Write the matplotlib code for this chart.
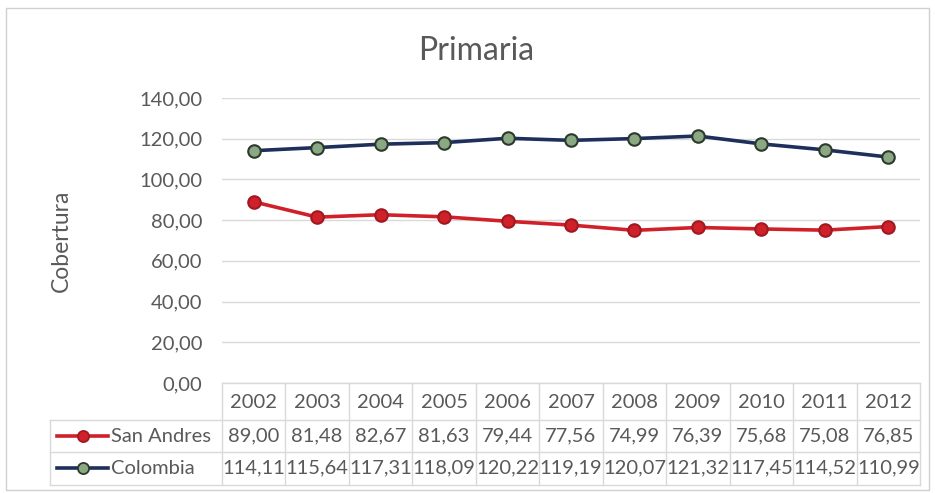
import matplotlib
matplotlib.use("Agg")
import matplotlib.pyplot as plt
from matplotlib.patches import Rectangle
from matplotlib.lines import Line2D
import matplotlib.transforms as mtransforms

years = ["2002", "2003", "2004", "2005", "2006", "2007", "2008", "2009", "2010", "2011", "2012"]
san_andres = [89.00, 81.48, 82.67, 81.63, 79.44, 77.56, 74.99, 76.39, 75.68, 75.08, 76.85]
colombia = [114.11, 115.64, 117.31, 118.09, 120.22, 119.19, 120.07, 121.32, 117.45, 114.52, 110.99]
series_names = ["San Andres", "Colombia"]
yticks = [0, 20, 40, 60, 80, 100, 120, 140]

FONT = "Lato"
TXT = "#595959"
GRID = "#d9d9d9"
RED = "#d0202a"
RED_EDGE = "#a01820"
NAVY = "#1f2f5c"
GREEN = "#8aa884"
FS = 14.5

W, H = 935, 493
fig = plt.figure(figsize=(W / 100, H / 100), dpi=100)
fig.patch.set_facecolor("white")

# chart border
fig.add_artist(Rectangle((6 / W, 1 - 490 / H), (929 - 6) / W, (490 - 8) / H,
                         transform=fig.transFigure, fill=False, edgecolor="#d0d0d0", lw=1))

x0, x1 = 222, 920
ytop, ybot = 98, 383
ax = fig.add_axes([x0 / W, 1 - ybot / H, (x1 - x0) / W, (ybot - ytop) / H])
xs = list(range(len(years)))
ax.set_xlim(-0.5, len(years) - 0.5)
ax.set_ylim(0, 140)
for s in ax.spines.values():
    s.set_visible(False)
ax.set_yticks(yticks)
ax.set_yticklabels([f"{v:.2f}".replace(".", ",") for v in yticks], fontsize=FS,
                   color=TXT, family=FONT)
ax.tick_params(axis="y", length=0, pad=14)
ax.set_xticks([])
ax.grid(axis="y", color=GRID, lw=1)
ax.set_axisbelow(True)

ax.plot(xs, san_andres, color=RED, lw=2.6, marker="o", ms=9, mfc=RED, mec=RED_EDGE, mew=1.5,
        zorder=3, clip_on=False)
ax.plot(xs, colombia, color=NAVY, lw=2.6, marker="o", ms=9, mfc=GREEN, mec="#2b3a2a", mew=1.5,
        zorder=3, clip_on=False)

fig.text(61 / W, 1 - 241 / H, "Cobertura", rotation=90, ha="center", va="center",
         fontsize=16.5, color=TXT, family=FONT)

fig.text(476 / W, 1 - 51 / H, "Primaria", ha="center", va="center", fontsize=23,
         color=TXT, family=FONT)

# data table
trans = mtransforms.blended_transform_factory(ax.transData, fig.transFigure)
def fy(py):
    return 1 - py / H

row_head, row1, row2, row_end = 383, 420, 452, 485
for i in range(len(years) + 1):
    fig.add_artist(Line2D([i - 0.5, i - 0.5], [fy(row_head), fy(row_end)], transform=trans,
                          color=GRID, lw=1))
for yy in (row1, row2, row_end):
    fig.add_artist(Line2D([50 / W, x1 / W], [fy(yy), fy(yy)], transform=fig.transFigure,
                          color=GRID, lw=1))
fig.add_artist(Line2D([50 / W, 50 / W], [fy(row1), fy(row_end)], transform=fig.transFigure,
                      color=GRID, lw=1))
fig.add_artist(Line2D([x0 / W, x1 / W], [fy(row_head), fy(row_head)], transform=fig.transFigure,
                      color=GRID, lw=1))

for i, yr in enumerate(years):
    fig.text(i, fy(403), yr, transform=trans, ha="center", va="center", fontsize=FS,
             color=TXT, family=FONT)
    fig.text(i, fy(436), f"{san_andres[i]:.2f}".replace(".", ","), transform=trans,
             ha="center", va="center", fontsize=FS, color=TXT, family=FONT)
    fig.text(i, fy(468), f"{colombia[i]:.2f}".replace(".", ","), transform=trans,
             ha="center", va="center", fontsize=FS, color=TXT, family=FONT)

# legend keys in table
for yy, name, lc, mf, me in ((436, series_names[0], RED, RED, RED_EDGE),
                             (468, series_names[1], NAVY, GREEN, "#2b3a2a")):
    fig.add_artist(Line2D([57 / W, 108 / W], [fy(yy), fy(yy)], transform=fig.transFigure,
                          color=lc, lw=2.6))
    fig.add_artist(Line2D([83 / W], [fy(yy)], transform=fig.transFigure, marker="o", ms=8,
                          mfc=mf, mec=me, mew=1.3, color=lc))
    fig.text(111 / W, fy(yy), name, ha="left", va="center", fontsize=FS, color=TXT, family=FONT)

fig.savefig("out.png", dpi=100, facecolor="white")
